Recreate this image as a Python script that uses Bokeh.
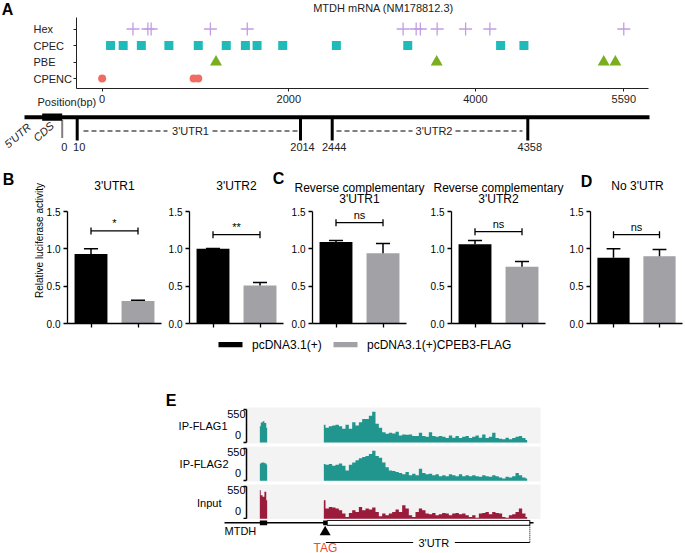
import math
from bokeh.plotting import figure
from bokeh.models import Range1d, FixedTicker, Spacer, NumeralTickFormatter, CustomJSTickFormatter
from bokeh.layouts import column, row
from bokeh.embed import file_html
from bokeh.resources import INLINE
from bokeh.core.properties import value

FONT = "Liberation Sans"
W = 685

# ---------------- Panel A: motif positions on MTDH mRNA (bp) ----------------
motif_names = ["Hex", "CPEC", "PBE", "CPENC"]
hex_pos = [330, 490, 525, 1160, 1555, 3225, 3365, 3410, 3590, 3895, 4155, 5590]
cpec_pos = [90, 225, 420, 715, 1030, 1330, 1535, 1660, 1935, 2510, 3275, 4270, 4520]
pbe_pos = [1220, 3585, 5375, 5500]
cpenc_pos = [0, 980, 1030]
position_ticks = [0, 2000, 4000, 5590]
utr_mark_labels = ["0", "10", "2014", "2444", "4358"]
utr_segment_names = ["3'UTR1", "3'UTR2"]

# ---------------- Panels B-D: relative luciferase activity ----------------
panel_titles = [["3'UTR1"], ["3'UTR2"], ["Reverse complementary", "3'UTR1"],
                ["Reverse complementary", "3'UTR2"], ["No 3'UTR"]]
groups = ["pcDNA3.1(+)", "pcDNA3.1(+)CPEB3-FLAG"]
ctrl_mean = [0.93, 1.00, 1.09, 1.06, 0.88]
ctrl_sem = [0.07, 0.005, 0.02, 0.05, 0.12]
cpeb3_mean = [0.30, 0.51, 0.94, 0.76, 0.90]
cpeb3_sem = [0.01, 0.04, 0.13, 0.07, 0.09]
significance = ["*", "**", "ns", "ns", "ns"]
y_ticks = [0.0, 0.5, 1.0, 1.5]

# ---------------- Panel E: coverage tracks ----------------
track_names = ["IP-FLAG1", "IP-FLAG2", "Input"]
scale_labels = ["550", "0"]
exon_bins = [20.8, 21.35, 21.9, 22.45, 23.0]
utr_bins = list(range(40, 102))
flag1_exon = [275, 340, 357, 330, 250]
flag2_exon = [290, 310, 315, 300, 280]
input_exon = [490, 406, 377, 464, 319]
flag1_utr = [302, 248, 275, 286, 302, 275, 231, 302, 231, 341, 286, 341, 396, 396, 451, 520,
             319, 248, 176, 149, 165, 154, 182, 121, 138, 132, 138, 110, 110, 165, 110, 99,
             176, 110, 99, 110, 99, 77, 121, 83, 110, 77, 99, 110, 77, 99, 121, 83,
             138, 77, 99, 165, 77, 66, 55, 83, 55, 77, 99, 110, 77, 44]
flag2_utr = [286, 275, 286, 259, 275, 297, 259, 176, 275, 314, 352, 385, 407, 424, 462, 517,
             424, 396, 314, 231, 176, 165, 149, 132, 110, 149, 94, 121, 94, 204, 132, 110,
             121, 94, 110, 77, 94, 77, 110, 94, 77, 110, 77, 94, 77, 94, 77, 66,
             94, 77, 66, 94, 77, 55, 39, 66, 55, 77, 132, 94, 55, 39]
input_utr = [319, 174, 203, 191, 174, 145, 87, 29, 99, 145, 116, 203, 145, 174, 157, 191,
             116, 41, 87, 58, 87, 116, 157, 116, 232, 174, 58, 29, 116, 174, 145, 87,
             75, 99, 58, 75, 99, 87, 58, 87, 99, 75, 87, 58, 29, 58, 17, 87,
             99, 116, 75, 116, 99, 87, 29, 17, 58, 75, 116, 174, 87, 29]

# ---------------- styling ----------------
BLACK = "#000000"
GREY = "#A1A1A6"
TEAL = "#21968E"
CRIMSON = "#9B1B3B"
INK = "#222222"
HEX_C, CPEC_C, PBE_C, CPENC_C = "#C29DE3", "#1FBABA", "#7AAE1E", "#F06C62"
BLANK = CustomJSTickFormatter(code="return ''")


def make_fig(width, height, xr, yr, left=0, right=0, top=0, bottom=0, xaxis=False, yaxis=False):
    p = figure(width=width, height=height, x_range=xr, y_range=yr,
               x_axis_location="below" if xaxis else None,
               y_axis_location="left" if yaxis else None,
               output_backend="svg", toolbar_location=None,
               min_border_left=left, min_border_right=right,
               min_border_top=top, min_border_bottom=bottom)
    if "frame_align" in p.properties():
        p.frame_align = False
    p.outline_line_color = None
    p.grid.visible = False
    p.background_fill_color = "white"
    p.border_fill_color = "white"
    return p


def put(p, fl, fb, x, y, text, size=11, align="center", baseline="middle",
        style="normal", angle=0.0, color=INK):
    """Text placed at a pixel position (x, y) of the figure canvas (fl, fb = frame left/bottom)."""
    p.text(x=[p.x_range.start], y=[p.y_range.start], text=[text],
           x_offset=x - fl, y_offset=y - fb, text_align=align, text_baseline=baseline,
           text_font=value(FONT), text_font_size=f"{size}px", text_font_style=style,
           angle=angle, text_color=color, level="overlay")


def style_axis(ax, size, tick_out, standoff, lw=1.0, color=INK):
    ax.major_label_text_font = FONT
    ax.major_label_text_font_size = size
    ax.major_label_text_color = color
    ax.major_tick_out = tick_out
    ax.major_tick_in = 0
    ax.minor_tick_out = 0
    ax.minor_tick_in = 0
    ax.major_label_standoff = standoff
    ax.axis_line_width = lw
    ax.major_tick_line_width = lw
    ax.axis_line_color = color
    ax.major_tick_line_color = color


# ================= Panel A (motif map) =================
AFL, AFB = 76, 88
pA = make_fig(W, 110, Range1d(-275, 5855), Range1d(0.394, 4.697),
              left=AFL, right=W - 648, top=17, bottom=22, xaxis=True, yaxis=True)
row_y = {n: len(motif_names) - i for i, n in enumerate(motif_names)}
pA.scatter(hex_pos, [row_y["Hex"]] * len(hex_pos), marker="cross", size=13,
           line_color=HEX_C, line_width=1.3)
pA.scatter(cpec_pos, [row_y["CPEC"]] * len(cpec_pos), marker="square", size=9,
           fill_color=CPEC_C, line_color=None)
pA.scatter(pbe_pos, [row_y["PBE"]] * len(pbe_pos), marker="triangle", size=12,
           fill_color=PBE_C, line_color=None)
pA.scatter(cpenc_pos, [row_y["CPENC"]] * len(cpenc_pos), marker="circle", size=8,
           fill_color=CPENC_C, line_color=None)
ax = pA.xaxis[0]
ax.ticker = FixedTicker(ticks=position_ticks)
style_axis(ax, "11px", 3, 3)
ay = pA.yaxis[0]
ay.ticker = FixedTicker(ticks=[row_y[n] for n in motif_names])
ay.formatter = BLANK
style_axis(ay, "11px", 3, 0)
put(pA, AFL, AFB, 7, 9, "A", 16, style="bold", color=BLACK)
put(pA, AFL, AFB, 383, 7.5, "MTDH mRNA (NM178812.3)", 11)
pA.text(x=[pA.x_range.start] * 4, y=[row_y[n] for n in motif_names], text=motif_names,
        x_offset=33 - AFL, text_align="left", text_baseline="middle", text_font=value(FONT),
        text_font_size="11px", text_color=INK, level="overlay")
put(pA, AFL, AFB, 37, 101.7, "Position(bp)", 11, align="left")

# ================= Panel A (UTR schematic, not to scale) =================
pS = make_fig(W, 50, Range1d(0, W), Range1d(160, 110))
diagram_x = [61.7, 76.7, 300, 331.7, 527.3]
pS.segment(x0=[24], y0=[116.7], x1=[649], y1=[116.7], line_width=4, line_color=BLACK)
pS.quad(left=[41.7], right=[61.7], top=[113], bottom=[120.3], fill_color=BLACK, line_color=None)
pS.segment(x0=[diagram_x[0]], y0=[120], x1=[diagram_x[0]], y1=[137.5],
           line_width=2, line_color=BLACK, line_dash="1 1")
pS.segment(x0=diagram_x[1:], y0=[117] * 4, x1=diagram_x[1:], y1=[140] * 4,
           line_width=3, line_color=BLACK)
pS.segment(x0=[83, 212, 336, 455], y0=[130.5] * 4, x1=[167, 297, 412, 522], y1=[130.5] * 4,
           line_width=1.2, line_color=BLACK, line_dash="5 3")
pS.text(x=[190, 433.5], y=[130.5, 130.5], text=utr_segment_names, text_align="center",
        text_baseline="middle", text_font=value(FONT), text_font_size="11px", text_color=INK)
pS.text(x=[d + 2 for d in diagram_x], y=[146.5] * 5, text=utr_mark_labels, text_align="center",
        text_baseline="middle", text_font=value(FONT), text_font_size="11px", text_color=INK)
pS.text(x=[17, 43], y=[135, 131], text=["5'UTR", "CDS"], angle=0.72, text_align="center",
        text_baseline="middle", text_font=value(FONT), text_font_size="11px",
        text_font_style="italic", text_color=INK)

# ================= Panels B-D (bar charts) =================
fig_widths = [165, 123, 139, 139, 119]
frame_left = [67, 24, 24, 24, 22]
frame_right = [4, 5, 21, 21, 3]
sig_height = [1.24, 1.19, 1.35, 1.23, 1.19]
FB = 163  # frame bottom (local px)
bars = []
for i in range(5):
    fl = frame_left[i]
    p = make_fig(fig_widths[i], 174, Range1d(0, 2), Range1d(0, 1.5),
                 left=fl, right=frame_right[i], top=51, bottom=11, xaxis=True, yaxis=True)
    xs = [0.5, 1.5]
    means = [ctrl_mean[i], cpeb3_mean[i]]
    tops = [ctrl_mean[i] + ctrl_sem[i], cpeb3_mean[i] + cpeb3_sem[i]]
    p.vbar(x=xs, top=means, width=0.7, fill_color=[BLACK, GREY], line_color=None)
    p.segment(x0=xs, y0=means, x1=xs, y1=tops, line_width=1.5, line_color=BLACK)
    p.segment(x0=[x - 0.15 for x in xs], y0=tops, x1=[x + 0.15 for x in xs], y1=tops,
              line_width=1.5, line_color=BLACK)
    h = sig_height[i]
    d = 0.047
    p.segment(x0=[0.5], y0=[h], x1=[1.5], y1=[h], line_width=1.3, line_color=BLACK)
    p.segment(x0=xs, y0=[h - d] * 2, x1=xs, y1=[h + d] * 2, line_width=1.3, line_color=BLACK)
    p.text(x=[1.0], y=[h], text=[significance[i]], text_align="center", text_baseline="bottom",
           y_offset=-2, text_font=value(FONT), text_font_size="11px", text_color=BLACK)
    ay = p.yaxis[0]
    ay.ticker = FixedTicker(ticks=y_ticks)
    ay.formatter = NumeralTickFormatter(format="0.0")
    style_axis(ay, "10px", 4, 3, lw=1.3, color=BLACK)
    ax = p.xaxis[0]
    ax.ticker = FixedTicker(ticks=xs)
    ax.formatter = BLANK
    style_axis(ax, "10px", 4, 0, lw=1.3, color=BLACK)
    title = panel_titles[i]
    cx = fl + 47
    if len(title) == 1:
        put(p, fl, FB, cx, 25, title[0], 12, color=BLACK)
    else:
        put(p, fl, FB, cx, 27, title[0], 12, color=BLACK)
        put(p, fl, FB, cx, 38, title[1], 12, color=BLACK)
    bars.append(p)

put(bars[0], 67, FB, 8, 19, "B", 16, style="bold", color=BLACK)
put(bars[1], 24, FB, 278 - 165, 18, "C", 16, style="bold", color=BLACK)
put(bars[4], 22, FB, 584 - 566, 21, "D", 16, style="bold", color=BLACK)
put(bars[0], 67, FB, 39, 80, "Relative luciferase activity", 10, angle=math.pi / 2, color=BLACK)

# legend
pL = make_fig(W, 22, Range1d(0, W), Range1d(22, 0))
leg_x = [218, 333]
for g, c, lx in zip(groups, [BLACK, GREY], leg_x):
    pL.quad(left=[lx], right=[lx + 24], top=[7.6], bottom=[12.7], fill_color=c, line_color=None)
    pL.text(x=[lx + 33.5], y=[10.2], text=[g], text_align="left", text_baseline="middle",
            text_font=value(FONT), text_font_size="12px", text_color=BLACK)

# ================= Panel E (coverage tracks) =================
track_data = [(flag1_exon, flag1_utr, TEAL), (flag2_exon, flag2_utr, TEAL),
              (input_exon, input_utr, CRIMSON)]
track_h = [(53, 16, 1), (39, 2, 2), (36, 1, 0)]
track_label = [(227, 17.5), (228, 17.5), (221, 16.5)]   # right edge, height above frame bottom
EFL = 246
tracks = []
for k in range(3):
    h, t, b = track_h[k]
    fb = h - b
    p = make_fig(W, h, Range1d(16.8, 105.0), Range1d(-15, 590),
                 left=EFL, right=W - 540, top=t, bottom=b, yaxis=True)
    p.background_fill_color = "#F3F3F3"
    ex, ut, col = track_data[k]
    p.varea_step(x=exon_bins, y1=0, y2=ex, step_mode="center", fill_color=col)
    p.varea_step(x=utr_bins, y1=0, y2=ut, step_mode="center", fill_color=col)
    ay = p.yaxis[0]
    ay.ticker = FixedTicker(ticks=[0, 550])
    ay.bounds = (0, 550)
    ay.formatter = BLANK
    style_axis(ay, "11px", 3, 0, lw=1.5, color=BLACK)
    lx, ly = track_label[k]
    put(p, EFL, fb, lx, fb - ly, track_names[k], 11, align="right", color=BLACK)
    put(p, EFL, fb, 245, fb - 29.5, scale_labels[0], 11, align="right", color=BLACK)
    put(p, EFL, fb, 240.5, fb - 8.3, scale_labels[1], 11, align="right", color=BLACK)
    tracks.append(p)
put(tracks[0], EFL, 52, 170.5, 8.5, "E", 16, style="bold", color=BLACK)

# gene model
pG = make_fig(W, 34, Range1d(-57, 148.5), Range1d(554, 520))
pG.segment(x0=[10.2], y0=[523.3], x1=[102.9], y1=[523.3], line_width=1.5, line_color=BLACK)
pG.quad(left=[20.8], right=[23.0], top=[521.0], bottom=[525.8], fill_color=BLACK, line_color=None)
pG.quad(left=[41.0], right=[101.8], top=[520.9], bottom=[525.8], fill_color="white",
        line_color=BLACK, line_width=1)
pG.quad(left=[39.8], right=[41.0], top=[520.9], bottom=[525.8], fill_color=BLACK, line_color=None)
pG.scatter(x=[40.4], y=[532.5], marker="triangle", size=11, fill_color=BLACK, line_color=None)
pG.segment(x0=[40.6, 79.3], y0=[543.0, 543.0], x1=[66.8, 101.8], y1=[543.0, 543.0],
           line_width=1.2, line_color=BLACK)
pG.segment(x0=[101.8], y0=[525.8], x1=[101.8], y1=[543.0], line_width=1, line_color=BLACK,
           line_dash="1 1")
pG.text(x=[10.2], y=[531.7], text=["MTDH"], text_align="left", text_baseline="middle",
        text_font=value(FONT), text_font_size="11px", text_color=BLACK)
pG.text(x=[73.0], y=[543.0], text=["3'UTR"], text_align="center", text_baseline="middle",
        text_font=value(FONT), text_font_size="11px", text_color=BLACK)
pG.text(x=[40.5], y=[548.0], text=["TAG"], text_align="center", text_baseline="middle",
        text_font=value(FONT), text_font_size="12px", text_color="#EB4B3F")

layout = column(pA, pS, row(*bars), pL, Spacer(width=W, height=35), *tracks, pG)

with open("out.html", "w") as f:
    f.write(file_html(layout, INLINE))
